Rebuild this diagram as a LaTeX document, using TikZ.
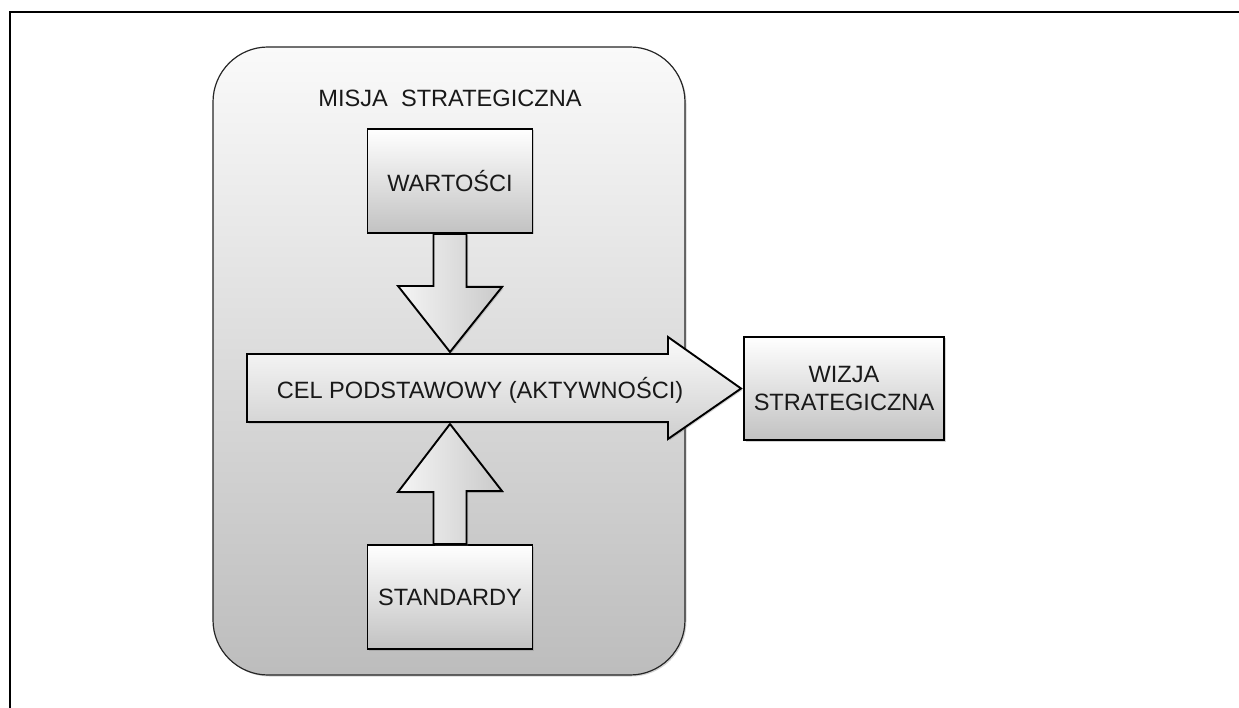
\documentclass[tikz,border=0pt]{standalone}
\usepackage{fontspec}
\setmainfont{Liberation Sans}
\usetikzlibrary{shadows}

\begin{document}
\begin{tikzpicture}[x=1pt, y=-1pt,
    every node/.style={font=\fontsize{23.6}{28}\selectfont, text=black!90},
    shad/.style={drop shadow={shadow xshift=1.5pt, shadow yshift=-1.5pt, opacity=.35}},
    box/.style={shad, draw=black, line width=1.9pt, top color=white, bottom color=gray!48,
        minimum width=165pt, minimum height=104pt, align=center, inner sep=0pt},
    misjabox/.style={shad, draw=black!85, line width=1.2pt, rounded corners=55pt,
        top color=black!2, bottom color=black!26, minimum width=472pt, minimum height=628pt},
    varrow/.style={shad, draw=black, line width=1.9pt, left color=gray!8, right color=gray!42},
    bigarrow/.style={shad, draw=black, line width=1.9pt, top color=gray!4, bottom color=gray!38}]
    \useasboundingbox (0,0) rectangle (1239,708);
    \draw[line width=2pt] (1239,12) -- (10,12) -- (10,708);
    \node[misjabox] (misja) at (449,361) {};
    \node (misjatxt) at (450,98) {MISJA\ \ STRATEGICZNA};
    \node[box] (wart) at (450,181) {WARTOŚCI};
    \node[box] (stand) at (450,597) {STANDARDY};
    \node[box, minimum width=200pt, minimum height=103pt] (wizja) at (844,388.5) {WIZJA\\STRATEGICZNA};
    \coordinate (celN) at (450,352);
    \coordinate (celS) at (450,424);
    \filldraw[varrow] (wart.south) +(-16.5,0) -- +(16.5,0) -- +(16.5,53) -- +(52,53) -- (celN) -- +(-52,-66) -- +(-16.5,-66) -- cycle;
    \filldraw[varrow] (stand.north) +(-16.5,0) -- +(16.5,0) -- +(16.5,-53) -- +(52,-53) -- (celS) -- +(-52,68) -- +(-16.5,68) -- cycle;
    \filldraw[bigarrow] (247,354) -- (668,354) -- (668,337) -- ([xshift=-2pt]wizja.west) -- (668,439) -- (668,422) -- (247,422) -- cycle;
    \node (cel) at (480,390) {CEL PODSTAWOWY (AKTYWNOŚCI)};
\end{tikzpicture}
\end{document}
